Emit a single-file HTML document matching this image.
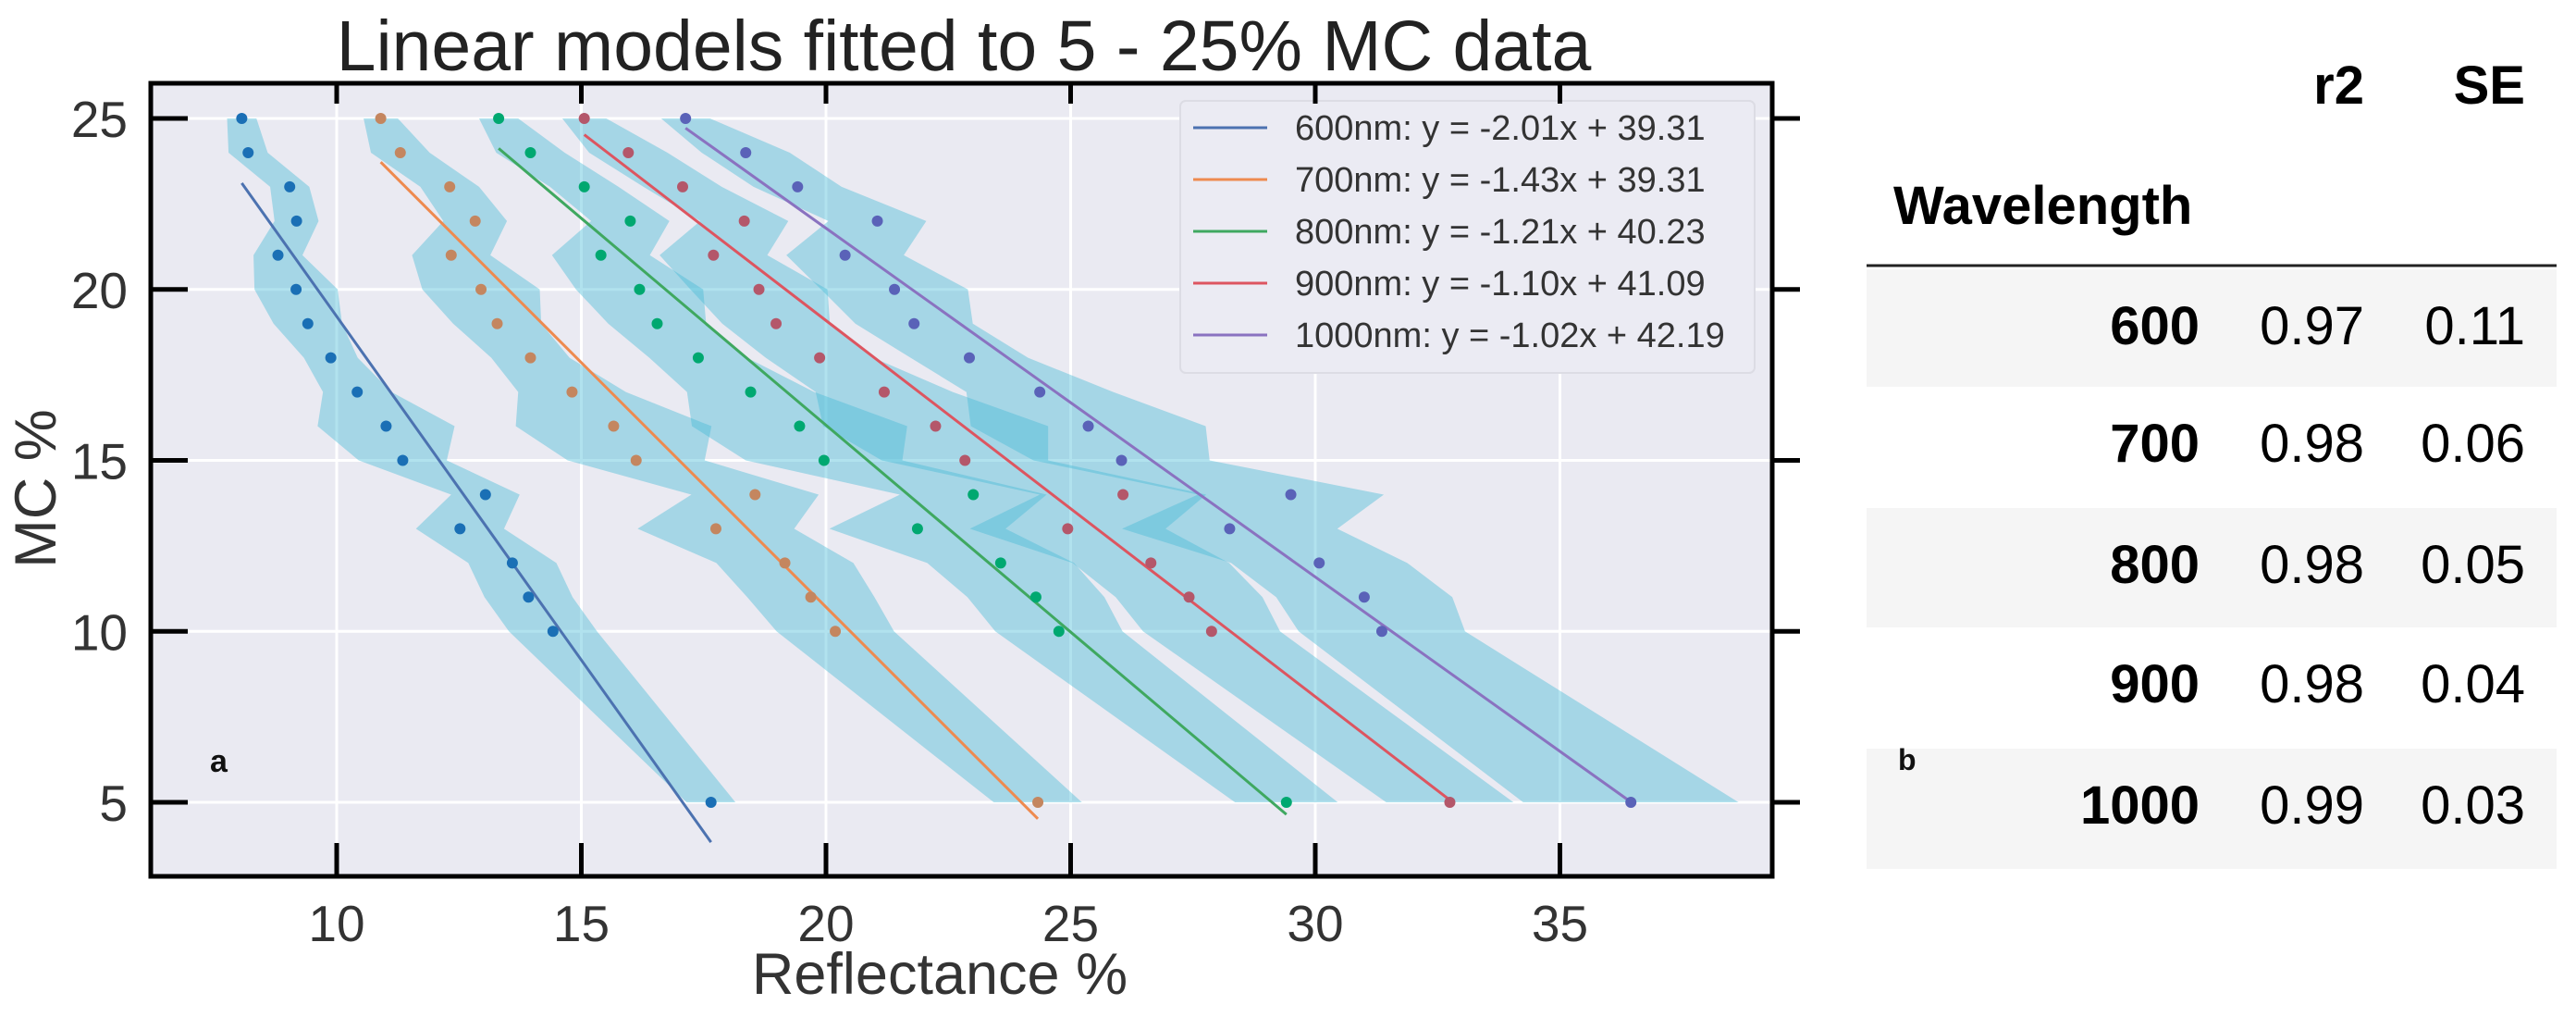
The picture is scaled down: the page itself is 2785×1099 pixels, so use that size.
<!DOCTYPE html>
<html><head><meta charset="utf-8"><style>
body{margin:0;background:#fff;width:2785px;height:1099px;overflow:hidden;font-family:"Liberation Sans",sans-serif}
svg{position:absolute;left:0;top:0}
</style></head><body>
<svg id="chart" width="2785" height="1099" xmlns="http://www.w3.org/2000/svg">
<text x="1042" y="76" font-size="77" text-anchor="middle" fill="#222">Linear models fitted to 5 - 25% MC data</text>
<rect x="163" y="90" width="1753" height="857" fill="#eaeaf2"/>
<g id="grid"></g><g id="bands"></g><g id="lines"></g><g id="dots"></g>
<g id="legend"></g>
<rect x="163" y="90" width="1753" height="857" fill="none" stroke="#000" stroke-width="5"/>
<g id="ticks"></g>
<text x="227" y="834" font-size="34" font-weight="bold" fill="#111">a</text>
<text x="1016" y="1074" font-size="63" text-anchor="middle" fill="#333">Reflectance %</text>
<text transform="translate(60,528) rotate(-90)" font-size="63" text-anchor="middle" fill="#333">MC %</text>
<g id="table"></g>
</svg>
<script>
const mcLevels=[25,24,23,22,21,20,19,18,17,16,15,14,13,12,11,10,5];
const x600=[8.06,8.19,9.04,9.18,8.8,9.17,9.41,9.88,10.42,11.01,11.35,13.04,12.52,13.59,13.92,14.42,17.65];
const x700=[10.9,11.3,12.31,12.83,12.34,12.95,13.28,13.96,14.81,15.66,16.12,18.55,17.75,19.16,19.69,20.19,24.33];
const x800=[13.31,13.96,15.06,16.0,15.4,16.19,16.55,17.39,18.46,19.46,19.96,23.01,21.87,23.57,24.29,24.76,29.41];
const x900=[15.06,15.96,17.07,18.33,17.7,18.63,18.98,19.87,21.19,22.24,22.84,26.07,24.94,26.64,27.42,27.88,32.75];
const x1000=[17.13,18.36,19.42,21.05,20.39,21.4,21.8,22.93,24.37,25.36,26.04,29.5,28.25,30.08,31.0,31.36,36.45];
const hw600=[0.3,0.4,0.4,0.45,0.5,0.85,0.7,0.55,0.7,1.4,0.9,0.7,0.9,0.9,0.9,0.9,0.5];
const hw700=[0.35,0.6,0.6,0.65,0.8,1.2,0.9,0.8,1.1,2.0,1.4,1.3,1.6,1.4,1.3,1.2,0.9];
const hw800=[0.4,0.7,0.7,0.8,1.0,1.3,1.0,1.0,1.3,2.2,1.6,1.5,1.8,1.5,1.4,1.3,1.05];
const hw900=[0.45,0.8,0.8,0.9,1.1,1.4,1.1,1.1,1.4,2.3,1.7,1.7,2.0,1.6,1.5,1.4,1.3];
const hw1000=[0.5,0.9,0.9,1.0,1.2,1.5,1.2,1.2,1.5,2.4,1.8,1.9,2.2,1.8,1.8,1.7,2.2];
const slopes=[-2.01,-1.43,-1.21,-1.10,-1.02];
const intercepts=[39.31,39.31,40.23,41.09,42.19];
const seriesNames=["600","700","800","900","1000"];
const xTicks=[10,15,20,25,30,35];
const yTicks=[5,10,15,20,25];
const tableWl=["600","700","800","900","1000"];
const tableR2=["0.97","0.98","0.98","0.98","0.99"];
const tableSE=["0.11","0.06","0.05","0.04","0.03"];

const NS="http://www.w3.org/2000/svg";
const X=v=>364+(v-10)*52.9, Y=m=>128+(25-m)*36.95;
function mk(tag,attrs,parent){const e=document.createElementNS(NS,tag);for(const k in attrs)e.setAttribute(k,attrs[k]);document.getElementById(parent).appendChild(e);return e;}
const xs=[x600,x700,x800,x900,x1000], hws=[hw600,hw700,hw800,hw900,hw1000];
const lineCol=["#4c72b0","#ee8a4f","#3fa860","#dd5560","#8a72c0"];
const dotCol=["#1a6fb5","#c4865f","#00a870","#b4576a","#5a62b8"];
yTicks.forEach(t=>{const g=mk('line',{x1:163,x2:1916,y1:Y(t),y2:Y(t),stroke:'#fff','stroke-width':3},'grid');});
xTicks.forEach(t=>{const g=mk('line',{x1:X(t),x2:X(t),y1:90,y2:947,stroke:'#fff','stroke-width':3},'grid');});
xs.forEach((arr,s)=>{
  const hw=hws[s];
  let left=[],right=[];
  arr.forEach((v,i)=>{left.push(X(v-hw[i])+','+Y(mcLevels[i]));right.unshift(X(v+hw[i])+','+Y(mcLevels[i]));});
  const b=mk('polygon',{points:left.concat(right).join(' '),fill:'rgb(70,185,215)','fill-opacity':0.42},'bands');
  
  
  const x0=Math.min(...arr),x1=Math.max(...arr);
  const l=mk('line',{x1:X(x0),y1:Y(slopes[s]*x0+intercepts[s]),x2:X(x1),y2:Y(slopes[s]*x1+intercepts[s]),stroke:lineCol[s],'stroke-width':3},'lines');
  
  
  arr.forEach((v,i)=>{const d=mk('circle',{cx:X(v),cy:Y(mcLevels[i]),r:6,fill:dotCol[s]},'dots');
    
    });
});
const lb=mk('rect',{x:1276,y:109,width:621,height:294,rx:6,fill:'#ebebf3',stroke:'#dcdce4','stroke-width':2},'legend');

seriesNames.forEach((n,s)=>{const y=138+s*56;
  const l=mk('line',{x1:1290,x2:1370,y1:y,y2:y,stroke:lineCol[s],'stroke-width':3},'legend');
  
  const t=mk('text',{x:1400,y:y+13,'font-size':38,fill:'#333'},'legend');
  t.textContent=n+'nm: y = '+slopes[s].toFixed(2)+'x + '+intercepts[s].toFixed(2);
  });
yTicks.forEach(t=>{
  let a=mk('line',{x1:163,x2:203,y1:Y(t),y2:Y(t),stroke:'#000','stroke-width':5},'ticks');
  a=mk('line',{x1:1916,x2:1946,y1:Y(t),y2:Y(t),stroke:'#000','stroke-width':5},'ticks');
  a=mk('text',{x:138,y:Y(t)+20,'font-size':55,'text-anchor':'end',fill:'#333'},'ticks');a.textContent=t;});
xTicks.forEach(t=>{
  let a=mk('line',{x1:X(t),x2:X(t),y1:947,y2:911,stroke:'#000','stroke-width':5},'ticks');
  a=mk('line',{x1:X(t),x2:X(t),y1:90,y2:112,stroke:'#000','stroke-width':5},'ticks');
  a=mk('text',{x:X(t),y:1017,'font-size':55,'text-anchor':'middle',fill:'#333'},'ticks');a.textContent=t;});
const rowsTop=[291,418,549,678,809], rowH=[127,131,129,131,130];
tableWl.forEach((w,i)=>{
  if(i%2===0){const r=mk('rect',{x:2018,y:rowsTop[i],width:746,height:rowH[i],fill:'#f5f5f5'},'table');}
  const by=rowsTop[i]+81;
  let t=mk('text',{x:2378,y:by,'font-size':58,'font-weight':'bold','text-anchor':'end',fill:'#000'},'table');t.textContent=w;
  t=mk('text',{x:2556,y:by,'font-size':58,'text-anchor':'end',fill:'#000'},'table');t.textContent=tableR2[i];
  t=mk('text',{x:2730,y:by,'font-size':58,'text-anchor':'end',fill:'#000'},'table');t.textContent=tableSE[i];
});
[['r2',2556,112],['SE',2730,112]].forEach(h=>{const t=mk('text',{x:h[1],y:h[2],'font-size':58,'font-weight':'bold','text-anchor':'end',fill:'#000'},'table');t.textContent=h[0];
  });
let ht=mk('text',{x:2047,y:242,'font-size':58,'font-weight':'bold',fill:'#000'},'table');ht.textContent='Wavelength';

let hl=mk('line',{x1:2018,x2:2764,y1:287,y2:287,stroke:'#222','stroke-width':3},'table');

let pb=mk('text',{x:2052,y:832,'font-size':32,'font-weight':'bold',fill:'#111'},'table');pb.textContent='b';

</script>
</body></html>
